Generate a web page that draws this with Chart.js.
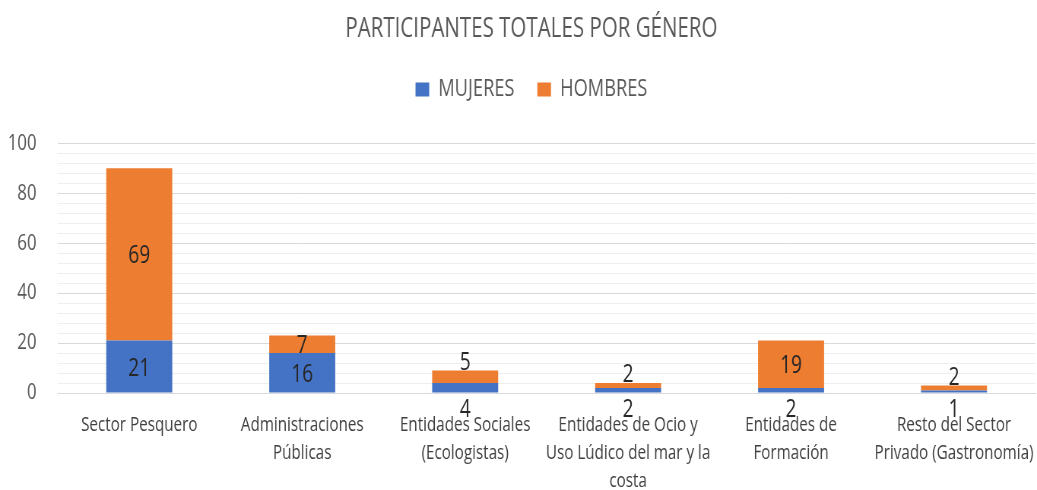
<!DOCTYPE html>
<html>
<head>
<meta charset="utf-8">
<script src="https://cdn.jsdelivr.net/npm/chart.js@4"></script>
<style>
  html, body { margin: 0; padding: 0; background: #fff; }
</style>
</head>
<body>
<!-- el lienzo se dibuja más ancho y se comprime para imitar la letra estrecha -->
<canvas id="chart" width="1364" height="490" style="width:1037px;height:490px;display:block"></canvas>
<script>
var categorias = [
    "Sector Pesquero",
    ["Administraciones", "Públicas"],
    ["Entidades Sociales", "(Ecologistas)"],
    ["Entidades de Ocio y", "Uso Lúdico del mar y la", "costa"],
    ["Entidades de", "Formación"],
    ["Resto del Sector", "Privado (Gastronomía)"]
];
var mujeres = [21, 16, 4, 2, 2, 1];
var hombres = [69, 7, 5, 2, 19, 2];

var fuente = "'Open Sans', sans-serif";

// etiquetas de datos estilo Excel
var etiquetas = {
    id: "etiquetas",
    afterDatasetsDraw(chart) {
        var ctx = chart.ctx;
        ctx.save();
        ctx.font = "25px " + fuente;
        ctx.fillStyle = "#262626";
        ctx.textAlign = "center";
        ctx.textBaseline = "alphabetic";
        chart.data.datasets.forEach((dataset, d) => {
            chart.getDatasetMeta(d).data.forEach((bar, i) => {
                var alto = bar.base - bar.y;
                var y = (bar.y + bar.base) / 2 + 9;
                if (alto < 15) {
                    y = d == 0 ? bar.base + 24 : bar.y - 1;
                }
                ctx.fillText(dataset.data[i], bar.x, y);
            });
        });
        ctx.restore();
    }
};

// espacio extra bajo la leyenda
var espacioLeyenda = {
    id: "espacioLeyenda",
    beforeInit(chart) {
        var fit = chart.legend.fit;
        chart.legend.fit = function () {
            fit.bind(chart.legend)();
            this.height += 32;
        };
    }
};

var ctx = document.getElementById("chart");
var grafico = new Chart(ctx, {
    type: "bar",
    data: {
        labels: categorias,
        datasets: [{
            label: "MUJERES",
            data: mujeres,
            backgroundColor: "#4472C4",
            categoryPercentage: 1,
            barPercentage: 0.405
        }, {
            label: "HOMBRES",
            data: hombres,
            backgroundColor: "#ED7D31",
            categoryPercentage: 1,
            barPercentage: 0.405
        }]
    },
    options: {
        responsive: false,
        animation: false,
        layout: { padding: { left: 2, right: -32, top: 4, bottom: -23 } },
        plugins: {
            title: {
                display: true,
                text: "PARTICIPANTES TOTALES POR GÉNERO",
                color: "#595959",
                font: { family: fuente, size: 27, weight: "normal" },
                padding: { top: 9, bottom: 2 }
            },
            legend: {
                labels: {
                    color: "#595959",
                    font: { family: fuente, size: 24 },
                    boxWidth: 18,
                    boxHeight: 14,
                    padding: 30
                }
            },
            tooltip: { enabled: false }
        },
        scales: {
            x: {
                stacked: true,
                grid: { display: false, drawTicks: false },
                border: { color: "#d9d9d9" },
                ticks: {
                    color: "#404040",
                    font: { family: fuente, size: 20, lineHeight: 1.4 },
                    maxRotation: 0,
                    autoSkip: false,
                    padding: 18
                },
                afterFit: (s) => { s.paddingLeft = 0; s.paddingRight = 2; }
            },
            y: {
                stacked: true,
                min: 0,
                max: 100,
                border: { display: false },
                grid: {
                    drawTicks: false,
                    color: (c) => c.tick && c.tick.value % 20 == 0 ? "#d9d9d9" : "#eeeeee"
                },
                ticks: {
                    stepSize: 4,
                    autoSkip: false,
                    color: "#595959",
                    font: { family: fuente, size: 22 },
                    padding: 28,
                    callback: (v) => v % 20 == 0 ? v : ""
                },
                afterFit: (s) => { s.width = 74; }
            }
        }
    },
    plugins: [etiquetas, espacioLeyenda]
});
</script>
</body>
</html>
